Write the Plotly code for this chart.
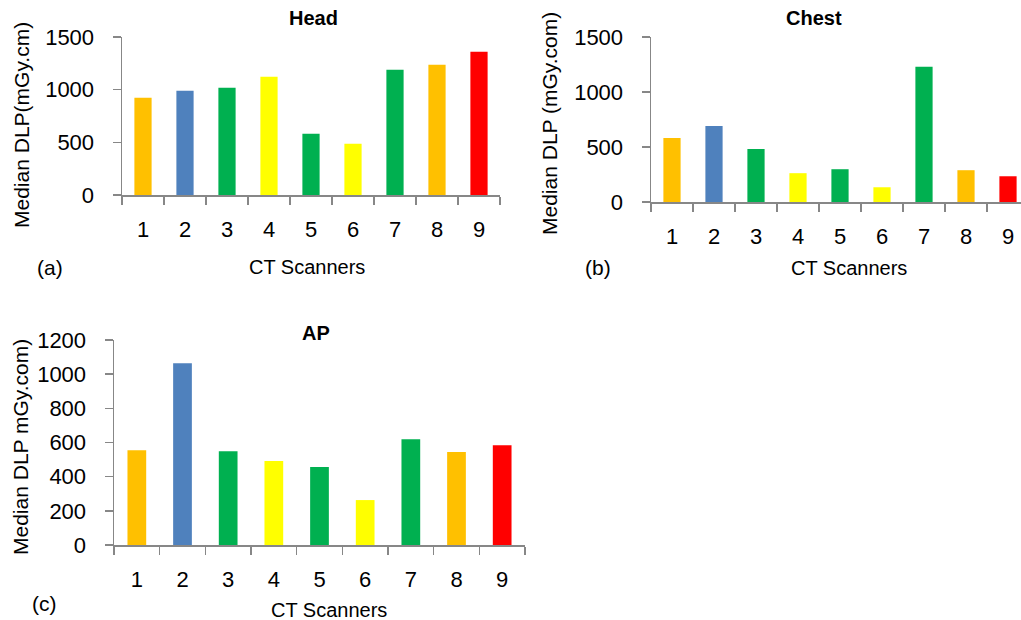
import plotly.graph_objects as go

scanners = ["1", "2", "3", "4", "5", "6", "7", "8", "9"]
head_dlp = [924, 990, 1019, 1123, 582, 487, 1190, 1237, 1361]
chest_dlp = [581, 691, 481, 262, 298, 134, 1229, 289, 234]
ap_dlp = [555, 1064, 549, 491, 456, 263, 619, 544, 584]
bar_colors = ["#FFC000", "#4F81BD", "#00B050", "#FFFF00", "#00B050",
              "#FFFF00", "#00B050", "#FFC000", "#FF0000"]

W, H = 1021, 620
FONT = "Liberation Sans, Arial, sans-serif"
AXC = "#878787"

fig = go.Figure()

panels = [
    dict(data=head_dlp, xa="x", ya="y", xp=(122, 500), yp=(37, 195), ymax=1500, dtick=500,
         xrange=(-0.5, 8.5), title="Head", ytitle="Median DLP(mGy.cm)",
         title_xy=(313, 18), ytitle_xy=(21, 125), xt_xy=(307, 267), lab="(a)", lab_xy=(50, 267)),
    dict(data=chest_dlp, xa="x2", ya="y2", xp=(651, 1021), yp=(37, 202), ymax=1500, dtick=500,
         xrange=(-0.5, -0.5 + 9 * 370 / 378), title="Chest", ytitle="Median DLP (mGy.com)",
         title_xy=(814, 18), ytitle_xy=(550, 124), xt_xy=(849, 268), lab="(b)", lab_xy=(598, 267)),
    dict(data=ap_dlp, xa="x3", ya="y3", xp=(114, 525), yp=(340, 545), ymax=1200, dtick=200,
         xrange=(-0.5, 8.5), title="AP", ytitle="Median DLP mGy.com)",
         title_xy=(316, 333), ytitle_xy=(20, 447), xt_xy=(329, 610), lab="(c)", lab_xy=(44, 603)),
]

annotations = []
for i, p in enumerate(panels):
    fig.add_trace(go.Bar(x=scanners, y=p["data"], marker=dict(color=bar_colors, line=dict(width=0)),
                         width=0.41, xaxis=p["xa"], yaxis=p["ya"], showlegend=False))
    suffix = "" if i == 0 else str(i + 1)
    xdom = [p["xp"][0] / W, p["xp"][1] / W]
    ydom = [1 - p["yp"][1] / H, 1 - p["yp"][0] / H]
    fig.update_layout(**{
        "xaxis" + suffix: dict(domain=xdom, anchor="y" + suffix, type="category",
                               range=list(p["xrange"]), tickson="boundaries", ticks="outside",
                               ticklen=8, tickwidth=1.5, tickcolor=AXC, showline=True,
                               linecolor=AXC, linewidth=1.5, showgrid=False, zeroline=False,
                               automargin=False,
                               tickfont=dict(size=22, family=FONT, color="#000"),
                               ticklabelstandoff=14),
        "yaxis" + suffix: dict(domain=ydom, anchor="x" + suffix, range=[0, p["ymax"]],
                               dtick=p["dtick"], ticks="outside", ticklen=8, tickwidth=1.5,
                               tickcolor=AXC, showline=True, linecolor=AXC, linewidth=1.5,
                               showgrid=False, zeroline=False, automargin=False,
                               tickfont=dict(size=22, family=FONT, color="#000"),
                               ticklabelstandoff=14),
    })
    annotations.append(dict(text="<b>%s</b>" % p["title"], x=p["title_xy"][0] / W,
                            y=1 - p["title_xy"][1] / H, xref="paper", yref="paper",
                            showarrow=False, xanchor="center", yanchor="middle",
                            font=dict(size=20, family=FONT, color="#000")))
    annotations.append(dict(text=p["ytitle"], x=p["ytitle_xy"][0] / W,
                            y=1 - p["ytitle_xy"][1] / H, xref="paper", yref="paper",
                            showarrow=False, xanchor="center", yanchor="middle", textangle=-90,
                            font=dict(size=21, family=FONT, color="#000")))
    annotations.append(dict(text="CT Scanners", x=p["xt_xy"][0] / W,
                            y=1 - p["xt_xy"][1] / H, xref="paper", yref="paper",
                            showarrow=False, xanchor="center", yanchor="middle",
                            font=dict(size=20, family=FONT, color="#000")))
    annotations.append(dict(text=p["lab"], x=p["lab_xy"][0] / W,
                            y=1 - p["lab_xy"][1] / H, xref="paper", yref="paper",
                            showarrow=False, xanchor="center", yanchor="middle",
                            font=dict(size=21, family=FONT, color="#000")))

fig.update_layout(width=W, height=H, margin=dict(l=0, r=0, t=0, b=0, pad=0, autoexpand=False),
                  paper_bgcolor="white", plot_bgcolor="white", bargap=0.59,
                  annotations=annotations, font=dict(family=FONT), hovermode=False)

fig.write_html("out.html", config={"displayModeBar": False, "staticPlot": True},
               post_script="document.body.style.margin='0';document.body.style.overflow='hidden';")
